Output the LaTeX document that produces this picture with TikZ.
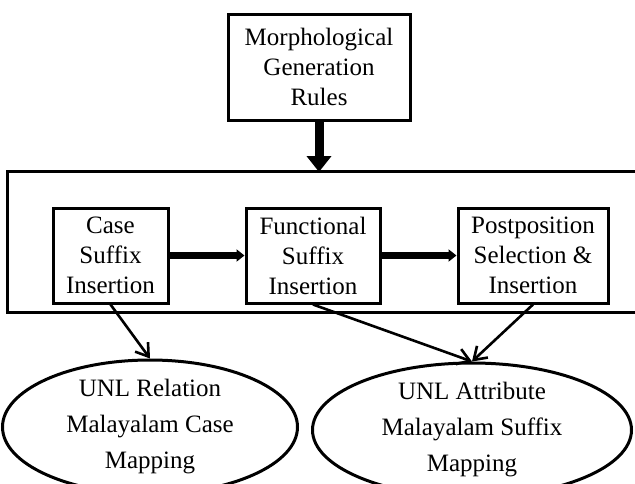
\documentclass[tikz,border=0pt]{standalone}
\usepackage{fontspec}
\setmainfont{Liberation Serif}
\usetikzlibrary{arrows.meta,shapes.geometric}
\begin{document}
\begin{tikzpicture}[x=1pt,y=-1pt,
  boxnode/.style={draw,line width=3pt,rectangle,align=center,inner sep=0pt,
    font=\fontsize{25}{30}\selectfont},
  ellnode/.style={draw,line width=3pt,ellipse,align=center,inner sep=0pt,
    font=\fontsize{25}{36}\selectfont},
  thick arrow/.style={line width=9pt,-{Triangle[length=16pt,width=24pt]}},
  mid arrow/.style={line width=7.5pt,-{Triangle[length=8pt,width=12pt]}},
  thin arrow/.style={line width=2.6pt,-{Straight Barb[length=12pt,width=16pt]}}]
\useasboundingbox (0,0) rectangle (635,483);
\fill[white] (0,0) rectangle (635,483);
\node[boxnode,minimum width=182pt,minimum height=106pt] (rules) at (319,67)
  {Morphological\\Generation\\Rules};
\node[minimum width=627pt,minimum height=140pt,inner sep=0pt] (cont) at (321.5,242) {};
\draw[line width=3pt] (cont.north east) -- (cont.north west) -- (cont.south west) -- (cont.south east);
\node[boxnode,minimum width=115pt,minimum height=95pt] (case) at (110.5,255.5)
  {Case\\Suffix\\Insertion};
\node[boxnode,minimum width=134pt,minimum height=95pt] (func) at (313,255.5)
  {Functional\\Suffix\\Insertion};
\node[boxnode,minimum width=150pt,minimum height=95pt] (post) at (533,255.5)
  {Postposition\\Selection \&\\Insertion};
\node[ellnode,minimum width=295pt,minimum height=108pt] (ellA) at (150,427)
  {UNL Relation\\Malayalam Case\\Mapping};
\node[ellnode,minimum width=319pt,minimum height=114pt] (ellB) at (472,430)
  {UNL Attribute\\Malayalam Suffix\\Mapping};
\coordinate (contTop) at (319,172);
\draw[thick arrow] (rules.south) -- (contTop);
\draw[mid arrow] (case.east) -- (func.west);
\draw[mid arrow] (func.east) -- (post.west);
\draw[thin arrow] (case.south) -- (ellA.north);
\draw[thin arrow] (func.south) -- (ellB.north);
\draw[thin arrow] (post.south) -- (ellB.north);
\end{tikzpicture}
\end{document}
